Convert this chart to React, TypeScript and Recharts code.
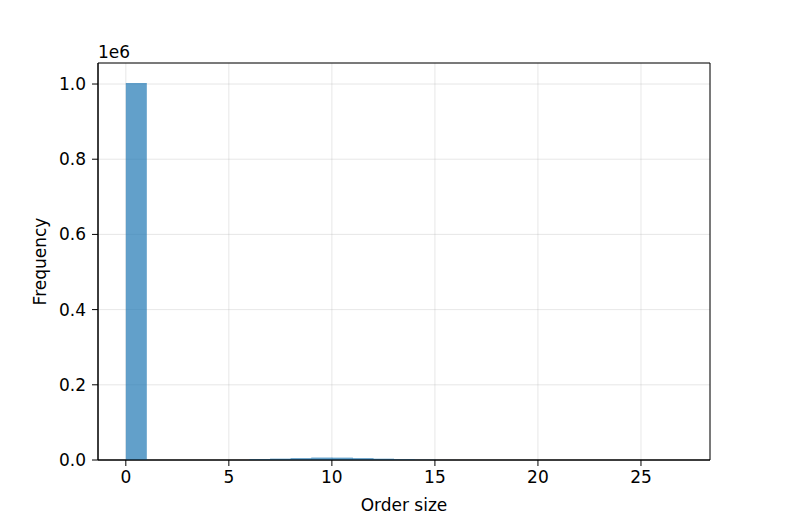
import React from "react";
import {
  ComposedChart,
  Bar,
  XAxis,
  YAxis,
  CartesianGrid,
  ReferenceArea,
} from "recharts";

// histogram bins: left edges 0..26, width 1
const binStarts = [
  0, 1, 2, 3, 4, 5, 6, 7, 8, 9, 10, 11, 12, 13, 14, 15, 16, 17, 18, 19, 20, 21,
  22, 23, 24, 25, 26,
];
const counts = [
  1003000, 0, 0, 0, 0, 0, 2200, 3600, 5000, 6500, 6300, 5000, 3500, 2000, 700,
  150, 40, 10, 3, 1, 0, 0, 0, 0, 0, 0, 1,
];
const xTicks = [0, 5, 10, 15, 20, 25];
const yTicks = [0, 200000, 400000, 600000, 800000, 1000000];
const xDomain = [-1.35, 28.35];
const yDomain = [0, 1055900];

const data = binStarts.map((s, i) => ({ mid: s + 0.5, count: counts[i] }));

const FONT = "'DejaVu Sans', sans-serif";
const FS = 17;
const tickStyle = { fill: "#000", fontSize: FS, fontFamily: FONT };

export default function App() {
  return (
    <div style={{ position: "absolute", left: 0, top: 0, background: "#fff" }}>
      <ComposedChart
        width={789}
        height={526}
        data={data}
        margin={{ top: 63, right: 79, left: 0, bottom: 0 }}
        barCategoryGap={0}
        barGap={0}
      >
        <CartesianGrid stroke="#b0b0b0" strokeOpacity={0.3} />
        <XAxis
          dataKey="mid"
          type="number"
          domain={xDomain}
          ticks={xTicks}
          allowDataOverflow
          height={66}
          tick={tickStyle}
          tickSize={6}
          tickMargin={5}
          tickLine={{ stroke: "#000" }}
          axisLine={{ stroke: "#000" }}
          label={{
            value: "Order size",
            position: "insideBottom",
            offset: 15,
            style: { fill: "#000", fontSize: FS, fontFamily: FONT },
          }}
        />
        <YAxis
          type="number"
          domain={yDomain}
          ticks={yTicks}
          width={98}
          tick={tickStyle}
          tickSize={6}
          tickMargin={6}
          tickLine={{ stroke: "#000" }}
          axisLine={{ stroke: "#000" }}
          tickFormatter={(v: number) => (v / 1e6).toFixed(1)}
          label={{
            content: (props: any) => {
              const vb = props.viewBox || {};
              const cy = vb.y + vb.height / 2;
              return (
                <g>
                  <text
                    x={40}
                    y={cy}
                    transform={`rotate(-90 40 ${cy})`}
                    textAnchor="middle"
                    dominantBaseline="central"
                    fill="#000"
                    fontSize={FS}
                    fontFamily={FONT}
                  >
                    Frequency
                  </text>
                  <text
                    x={vb.x + vb.width}
                    y={vb.y - 5}
                    fill="#000"
                    fontSize={FS}
                    fontFamily={FONT}
                  >
                    1e6
                  </text>
                </g>
              );
            },
          }}
        />
        <Bar
          dataKey="count"
          fill="#1f77b4"
          fillOpacity={0.7}
          isAnimationActive={false}
        />
        <ReferenceArea
          x1={xDomain[0]}
          x2={xDomain[1]}
          y1={yDomain[0]}
          y2={yDomain[1]}
          fill="none"
          stroke="#000"
          strokeWidth={1}
          ifOverflow="visible"
        />
      </ComposedChart>
    </div>
  );
}
